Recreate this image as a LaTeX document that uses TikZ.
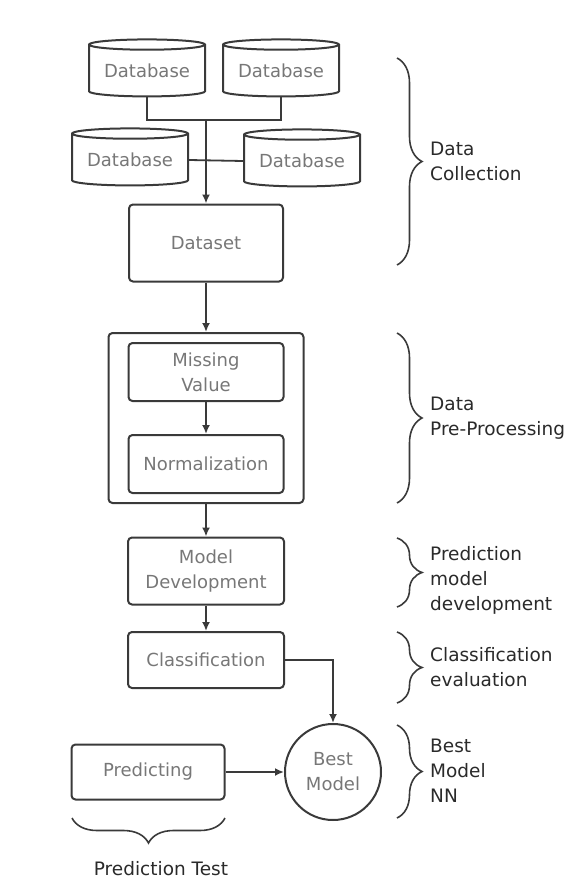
\documentclass[tikz,border=0pt]{standalone}
\usepackage{fontspec}
\setmainfont{DejaVu Sans}
\usepackage{xcolor}
\usetikzlibrary{shapes.geometric,arrows.meta,decorations.pathreplacing}
\definecolor{linegray}{HTML}{3A3A3A}
\definecolor{labelgray}{HTML}{777777}
\definecolor{sidetext}{HTML}{2A2A2A}
\newcommand{\boxfont}{\fontsize{18}{25}\selectfont}
\newcommand{\sidefont}{\fontsize{18.5}{25}\selectfont}

\begin{document}
\begin{tikzpicture}[x=1pt,y=-1pt]
\tikzstyle{box} = [draw=linegray, line width=2pt, rounded corners=4pt, text=labelgray, font=\boxfont, align=center, inner sep=0pt]
\tikzstyle{db} = [draw=linegray, line width=2pt, text=labelgray, font=\boxfont, cylinder, shape border rotate=90, aspect=0.12, minimum width=116pt, minimum height=57pt, inner sep=0pt]
\tikzstyle{link} = [draw=linegray, line width=1.8pt]
\tikzstyle{arr} = [link, -{Latex[length=9pt,width=8pt]}]
\tikzstyle{bracket} = [draw=linegray, line width=1.6pt, decorate, decoration={brace, amplitude=25pt}]
\tikzstyle{side} = [anchor=west, align=left, text=sidetext, font=\sidefont, inner sep=0pt]
%
\useasboundingbox (0,0) rectangle (574,883);

% data collection
\node[db] (db1) at (147,71) {Database};
\node[db] (db2) at (281,71) {Database};
\node[db] (db3) at (130,160) {Database};
\node[db] (db4) at (302,161) {Database};
\coordinate (jn) at (206,120);
\node[box, minimum width=154pt, minimum height=77pt] (dataset) at (206,243) {Dataset};

\draw[link] (db1.south) |- (jn) -| (db2.south);
\draw[link] (db3.east) -- (db4.west);
\draw[arr] (jn) -- (dataset.north);

% pre-processing
\node[box, minimum width=195pt, minimum height=170pt] (prep) at (206,418) {};
\node[box, minimum width=155pt, minimum height=58pt] (miss) at (206,372) {Missing\\Value};
\node[box, minimum width=155pt, minimum height=58pt] (norm) at (206,464) {Normalization};
\draw[arr] (dataset.south) -- (prep.north);
\draw[arr] (miss.south) -- (norm.north);

% model
\node[box, minimum width=156pt, minimum height=67pt] (model) at (206,571) {Model\\Development};
\node[box, minimum width=156pt, minimum height=56pt] (class) at (206,660) {Classification};
\node[draw=linegray, line width=2pt, circle, minimum size=96pt, inner sep=0pt, text=labelgray, font=\boxfont, align=center] (best) at (333,772) {Best\\Model};
\node[box, minimum width=153pt, minimum height=55pt] (pred) at (148,772) {Predicting};
\draw[arr] (prep.south) -- (model.north);
\draw[arr] (model.south) -- (class.north);
\draw[arr] (class.east) -| (best.north);
\draw[arr] (pred.east) -- (best.west);

% braces
\draw[bracket] (397,58) -- (397,265);
\node[side] (lcol) at (430,161) {Data\\Collection};
\draw[bracket] (397,333) -- (397,503);
\node[side] (lpre) at (430,418) {Data\\Pre-Processing};
\draw[bracket] (397,538) -- (397,607);
\node[side] (ldev) at (430,580) {Prediction\\model\\development};
\draw[bracket] (397,632) -- (397,703);
\node[side] (leva) at (430,667) {Classification\\evaluation};
\draw[bracket] (397,725) -- (397,818);
\node[side] (lnn) at (430,771) {Best\\Model\\NN};
\draw[bracket] (225,818) -- (72,818);
\node[text=sidetext, font=\sidefont, inner sep=0pt] (ltest) at (161,869) {Prediction Test};
\end{tikzpicture}
\end{document}
